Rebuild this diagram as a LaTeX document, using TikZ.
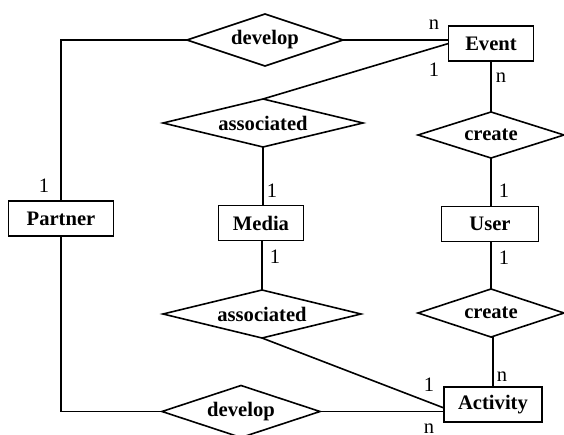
\documentclass[tikz,border=0pt]{standalone}
\usepackage{fontspec}
\setmainfont{Liberation Serif}
\usetikzlibrary{shapes.geometric,calc}
\tikzset{
  ent/.style={draw, line width=1.8pt, rectangle, minimum height=35pt, inner sep=0pt, outer sep=0pt,
    font=\fontsize{20.6}{24}\selectfont\bfseries},
  rel/.style={draw, line width=1.6pt, diamond, inner sep=0pt, outer sep=0pt,
    font=\fontsize{20.6}{24}\selectfont\bfseries},
  card/.style={inner sep=0pt, font=\fontsize{20.5}{24}\selectfont},
  conn/.style={line width=1.6pt}
}
\begin{document}
\begin{tikzpicture}[x=1pt,y=-1pt]
\useasboundingbox (0,0) rectangle (564,435);
% entities
\node[ent, minimum width=85pt] (Event) at (491,43.5) {Event};
\node[ent, minimum width=105pt] (Partner) at (61,218.5) {Partner};
\node[ent, minimum width=85pt] (Media) at (261,223) {Media};
\node[ent, minimum width=97pt] (User) at (490,224) {User};
\node[ent, minimum width=98pt] (Activity) at (493,404.5) {Activity};
% relationships
\node[rel, minimum width=156pt, minimum height=52pt, shape aspect=3] (dev1) at (265,40) {develop};
\node[rel, minimum width=200pt, minimum height=48pt, shape aspect=4.1] (assoc1) at (263,123) {associated};
\node[rel, minimum width=146pt, minimum height=46pt, shape aspect=3.1] (create1) at (491,135) {create};
\node[rel, minimum width=198pt, minimum height=48pt, shape aspect=4.1] (assoc2) at (262,314) {associated};
\node[rel, minimum width=146pt, minimum height=48pt, shape aspect=3.1] (create2) at (491,313) {create};
\node[rel, minimum width=158pt, minimum height=52pt, shape aspect=3] (dev2) at (241,411.5) {develop};
\coordinate (actin) at ($(Activity.west)+(0,3.5)$);
% connectors
\draw[conn] (Partner.north) |- (dev1.west);
\draw[conn] (dev1.east) -- (dev1.east -| Event.west);
\draw[conn] (Event.west) -- (assoc1.north);
\draw[conn] (Event.south) -- (Event.south |- create1.north);
\draw[conn] (create1.south) -- (create1.south |- User.north);
\draw[conn] (assoc1.south) -- (assoc1.south |- Media.north);
\draw[conn] (Media.south -| assoc2.north) -- (assoc2.north);
\draw[conn] (User.south -| create2.north) -- (create2.north);
\draw[conn] (create2.south) -- (create2.south -| Activity.north) -- (Activity.north);
\draw[conn] (assoc2.south) -- (actin);
\draw[conn] (Partner.south) |- (dev2.west);
\draw[conn] (dev2.east) -- (dev2.east -| Activity.west);
% cardinalities
\node[card] (c1) at (434,25) {n};
\node[card] (c2) at (434,70) {1};
\node[card] (c3) at (501,78) {n};
\node[card] (c4) at (44,186) {1};
\node[card] (c5) at (272,191) {1};
\node[card] (c6) at (275,257) {1};
\node[card] (c7) at (504,191) {1};
\node[card] (c8) at (504,258) {1};
\node[card] (c9) at (502,377) {n};
\node[card] (c10) at (429,385) {1};
\node[card] (c11) at (429,429) {n};
\end{tikzpicture}
\end{document}
